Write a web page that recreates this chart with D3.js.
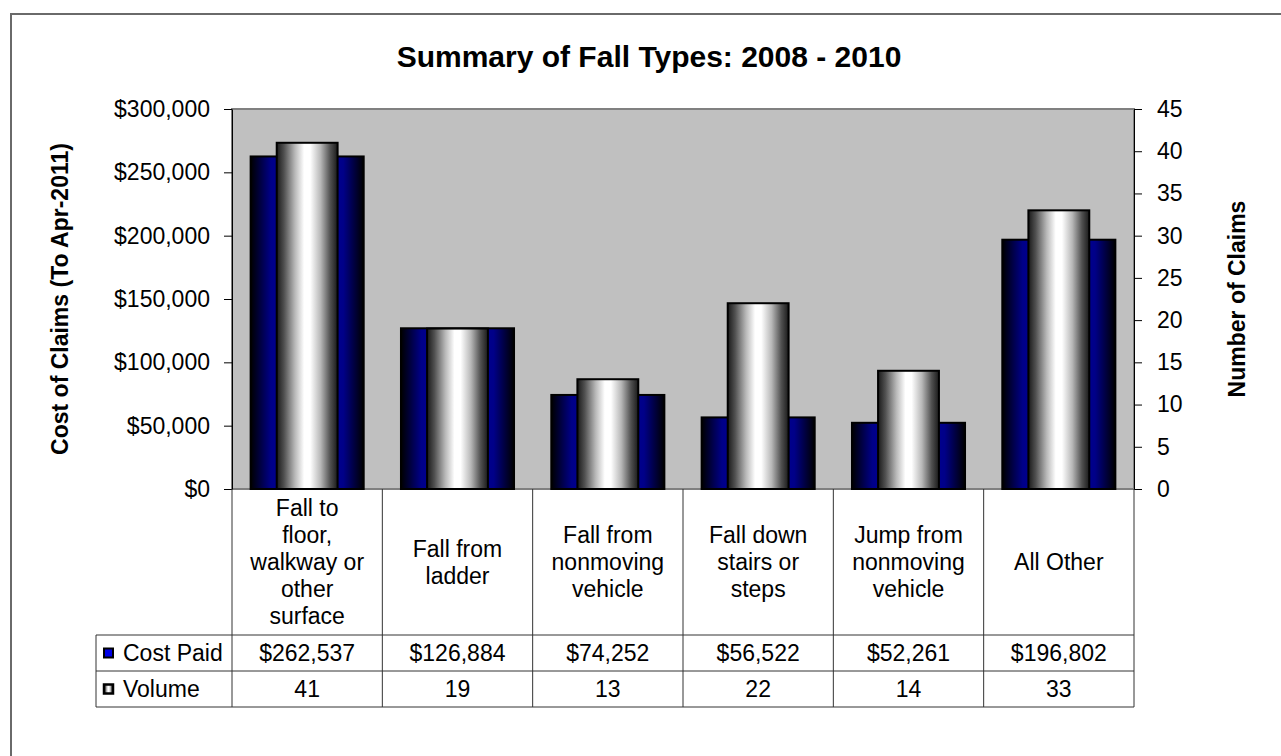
<!DOCTYPE html>
<html>
<head>
<meta charset="utf-8">
<script src="https://cdn.jsdelivr.net/npm/d3@7"></script>
<style>
  body { margin: 0; background: #fff; }
  svg { display: block; }
  text { font-family: "Liberation Sans", Arial, sans-serif; fill: #000; }
</style>
</head>
<body>
<svg id="chart"></svg>
<script>
// data
var categories = [
    ["Fall to", "floor,", "walkway or", "other", "surface"],
    ["Fall from", "ladder"],
    ["Fall from", "nonmoving", "vehicle"],
    ["Fall down", "stairs or", "steps"],
    ["Jump from", "nonmoving", "vehicle"],
    ["All Other"]
];
var costPaid = [262537, 126884, 74252, 56522, 52261, 196802];
var volume = [41, 19, 13, 22, 14, 33];
var costTicks = [0, 50000, 100000, 150000, 200000, 250000, 300000];
var volumeTicks = [0, 5, 10, 15, 20, 25, 30, 35, 40, 45];
var seriesNames = ["Cost Paid", "Volume"];

var W = 1281, H = 756;
var plot = { left: 232, right: 1134, top: 109, bottom: 489 };
var table = { left: 96, row1: 635, row2: 671, row3: 707 };
var axisTitleMid = (plot.top + plot.bottom) / 2;

var svg = d3.select("#chart").attr("width", W).attr("height", H);

// gradients for the bars
var defs = svg.append("defs");
var blueGrad = defs.append("linearGradient").attr("id", "blueGrad")
    .attr("x1", 0).attr("x2", 1).attr("y1", 0).attr("y2", 0);
[[0, "#000000"], [0.18, "#000088"], [0.5, "#0000a8"], [0.82, "#000088"], [1, "#000000"]]
    .forEach(s => blueGrad.append("stop").attr("offset", s[0]).attr("stop-color", s[1]));

var silverGrad = defs.append("linearGradient").attr("id", "silverGrad")
    .attr("x1", 0).attr("x2", 1).attr("y1", 0).attr("y2", 0);
[[0, "#1a1a1a"], [0.12, "#505050"], [0.3, "#b8b8b8"], [0.45, "#ffffff"], [0.55, "#ffffff"],
 [0.72, "#b8b8b8"], [0.88, "#505050"], [1, "#1a1a1a"]]
    .forEach(s => silverGrad.append("stop").attr("offset", s[0]).attr("stop-color", s[1]));

// chart border (runs off the page on the right and bottom)
svg.append("rect")
    .attr("x", 11).attr("y", 14)
    .attr("width", 1320).attr("height", 800)
    .attr("fill", "none").attr("stroke", "#6a6a6a").attr("stroke-width", 2);

// title
svg.append("text")
    .attr("x", 649).attr("y", 67)
    .attr("text-anchor", "middle")
    .style("font-size", "30px").style("font-weight", "bold")
    .text("Summary of Fall Types: 2008 - 2010");

// scales
var x = d3.scaleBand().domain(d3.range(categories.length)).range([plot.left, plot.right]);
var yCost = d3.scaleLinear().domain([0, 300000]).range([plot.bottom, plot.top]);
var yVol = d3.scaleLinear().domain([0, 45]).range([plot.bottom, plot.top]);

// plot area
svg.append("rect")
    .attr("x", plot.left).attr("y", plot.top)
    .attr("width", plot.right - plot.left).attr("height", plot.bottom - plot.top)
    .attr("fill", "#c0c0c0").attr("stroke", "#808080").attr("stroke-width", 2);

// bars
var groups = svg.selectAll(".cat")
    .data(categories)
    .enter().append("g")
    .attr("class", "cat");

var bw = x.bandwidth();
var costW = bw * 0.752, volW = bw * 0.405;

groups.append("rect")
    .attr("x", (d, i) => x(i) + (bw - costW) / 2)
    .attr("width", costW)
    .attr("y", (d, i) => yCost(costPaid[i]))
    .attr("height", (d, i) => yCost(0) - yCost(costPaid[i]))
    .attr("fill", "url(#blueGrad)")
    .attr("stroke", "#000").attr("stroke-width", 2);

groups.append("rect")
    .attr("x", (d, i) => x(i) + (bw - volW) / 2)
    .attr("width", volW)
    .attr("y", (d, i) => yVol(volume[i]))
    .attr("height", (d, i) => yVol(0) - yVol(volume[i]))
    .attr("fill", "url(#silverGrad)")
    .attr("stroke", "#000").attr("stroke-width", 2);

// axes
var fmtCost = d => "$" + d3.format(",")(d);

var leftAxis = svg.append("g")
    .attr("transform", `translate(${plot.left},0)`)
    .call(d3.axisLeft(yCost).tickValues(costTicks).tickFormat(fmtCost)
        .tickSizeInner(8).tickSizeOuter(0).tickPadding(14));

var rightAxis = svg.append("g")
    .attr("transform", `translate(${plot.right},0)`)
    .call(d3.axisRight(yVol).tickValues(volumeTicks)
        .tickSizeInner(8).tickSizeOuter(0).tickPadding(15));

[leftAxis, rightAxis].forEach(a => {
    a.selectAll("path, line").attr("stroke", "#000").attr("stroke-width", 1);
    a.selectAll("text")
        .style("font-size", "23px")
        .style("font-family", '"Liberation Sans", Arial, sans-serif')
        .attr("fill", "#000");
});

// axis titles
svg.append("text")
    .attr("transform", `translate(60,${axisTitleMid}) rotate(-90)`)
    .attr("text-anchor", "middle").attr("dominant-baseline", "central")
    .style("font-size", "23px").style("font-weight", "bold")
    .text("Cost of Claims (To Apr-2011)");

svg.append("text")
    .attr("transform", `translate(1237,${axisTitleMid}) rotate(-90)`)
    .attr("text-anchor", "middle").attr("dominant-baseline", "central")
    .style("font-size", "23px").style("font-weight", "bold")
    .text("Number of Claims");

// data table
var tbl = svg.append("g").attr("class", "table");
var lineColor = "#333";

d3.range(categories.length + 1).forEach(k => {
    var xx = plot.left + k * bw;
    tbl.append("line")
        .attr("x1", xx).attr("x2", xx)
        .attr("y1", plot.bottom).attr("y2", table.row3)
        .attr("stroke", lineColor).attr("stroke-width", 1);
});
[table.row1, table.row2, table.row3].forEach(yy => {
    tbl.append("line")
        .attr("x1", table.left).attr("x2", plot.right)
        .attr("y1", yy).attr("y2", yy)
        .attr("stroke", lineColor).attr("stroke-width", 1);
});
tbl.append("line")
    .attr("x1", table.left).attr("x2", table.left)
    .attr("y1", table.row1).attr("y2", table.row3)
    .attr("stroke", lineColor).attr("stroke-width", 1);

// category labels
var lineH = 27, labelMid = (plot.bottom + table.row1) / 2;
categories.forEach((lines, i) => {
    var t = tbl.append("text")
        .attr("text-anchor", "middle")
        .style("font-size", "23px");
    lines.forEach((ln, j) => {
        t.append("tspan")
            .attr("x", x(i) + bw / 2)
            .attr("y", labelMid + (j - (lines.length - 1) / 2) * lineH)
            .attr("dominant-baseline", "central")
            .text(ln);
    });
});

// legend keys and row names
var rowMid = [(table.row1 + table.row2) / 2, (table.row2 + table.row3) / 2];
tbl.append("rect")
    .attr("x", 104).attr("y", rowMid[0] - 4.5).attr("width", 9).attr("height", 9)
    .attr("fill", "#0000e6").attr("stroke", "#000").attr("stroke-width", 2);
tbl.append("rect")
    .attr("x", 104).attr("y", rowMid[1] - 4.5).attr("width", 9).attr("height", 9)
    .attr("fill", "url(#silverGrad)").attr("stroke", "#000").attr("stroke-width", 2.5);

seriesNames.forEach((name, r) => {
    tbl.append("text")
        .attr("x", 123).attr("y", rowMid[r])
        .attr("dominant-baseline", "central")
        .style("font-size", "23px")
        .text(name);
});

// values
costPaid.forEach((v, i) => {
    tbl.append("text")
        .attr("x", x(i) + bw / 2).attr("y", rowMid[0])
        .attr("text-anchor", "middle").attr("dominant-baseline", "central")
        .style("font-size", "23px")
        .text(fmtCost(v));
});
volume.forEach((v, i) => {
    tbl.append("text")
        .attr("x", x(i) + bw / 2).attr("y", rowMid[1])
        .attr("text-anchor", "middle").attr("dominant-baseline", "central")
        .style("font-size", "23px")
        .text(v);
});
</script>
</body>
</html>
